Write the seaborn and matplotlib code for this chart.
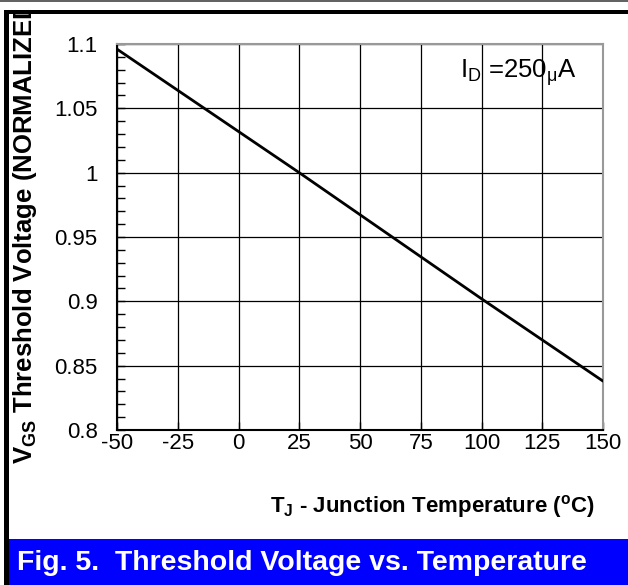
import matplotlib
matplotlib.use("Agg")
import matplotlib.pyplot as plt
import seaborn as sns
import pandas as pd
from matplotlib.patches import Rectangle
from matplotlib.lines import Line2D
from matplotlib.ticker import MultipleLocator

# Data
temps = [-50, 25, 100, 150]
vth_norm = [1.096, 1.0, 0.902, 0.838]
x_ticks = [-50, -25, 0, 25, 50, 75, 100, 125, 150]
y_ticks = [0.8, 0.85, 0.9, 0.95, 1.0, 1.05, 1.1]
y_tick_labels = ["0.8", "0.85", "0.9", "0.95", "1", "1.05", "1.1"]

sns.set_style("white")
plt.rcParams['font.family'] = ['Liberation Sans', 'DejaVu Sans']
plt.rcParams['mathtext.fontset'] = 'custom'
plt.rcParams['mathtext.rm'] = 'Liberation Sans'
plt.rcParams['mathtext.bf'] = 'Liberation Sans:bold'
plt.rcParams['mathtext.it'] = 'Liberation Sans:italic'

W, H = 628, 585
fig = plt.figure(figsize=(W / 100, H / 100), dpi=100)
fig.patch.set_facecolor("white")

def fx(px):
    return px / W

def fy(py):
    return 1 - py / H

ax = fig.add_axes([fx(117), fy(430), fx(603) - fx(117), fy(44) - fy(430)])

df = pd.DataFrame({"T": temps, "V": vth_norm})
sns.lineplot(data=df, x="T", y="V", ax=ax, color="black", linewidth=2.0, zorder=5)

ax.set_xlim(-50, 150)
ax.set_ylim(0.8, 1.1)
ax.set_xticks(x_ticks)
ax.set_xticklabels([str(t) for t in x_ticks])
ax.set_yticks(y_ticks)
ax.set_yticklabels(y_tick_labels)
ax.yaxis.set_minor_locator(MultipleLocator(0.01))
ax.grid(True, which="major", color="black", linewidth=0.9)
ax.tick_params(axis="both", which="major", direction="in", length=6, width=1,
               labelsize=16, colors="black")
ax.tick_params(axis="x", which="major", pad=2)
ax.tick_params(axis="y", which="major", pad=14)
ax.tick_params(axis="y", which="minor", direction="in", length=6, width=1,
               left=True, colors="black")
ax.tick_params(axis="x", which="major", bottom=True)
ax.tick_params(axis="y", which="major", left=True)
for s in ["left", "bottom"]:
    ax.spines[s].set_color("black")
    ax.spines[s].set_linewidth(1.5)
for s in ["top", "right"]:
    ax.spines[s].set_color("#999999")
    ax.spines[s].set_linewidth(1.5)
ax.set_xlabel("")
ax.set_ylabel("")

ax.text(0.945, 0.925, r"I$_\mathregular{D}$ =250$_\mathregular{\mu}$A", transform=ax.transAxes,
        ha="right", va="center", fontsize=18.5, color="black")

# Axis labels as figure text
fig.text(fx(432), fy(507), r"T$_\mathbf{J}$ - Junction Temperature ($^\mathbf{o}$C)",
         ha="center", va="center", fontsize=16, fontweight="bold", color="black")
fig.text(fx(25), fy(464), r"V$_\mathbf{GS}$ Threshold Voltage (NORMALIZED)",
         ha="center", va="bottom", rotation=90, fontsize=18.5, fontweight="bold",
         color="black", zorder=1)

# Frame: white cover above, thin top line, thick top border, left border
fig.patches.append(Rectangle((0, fy(10)), 1, 1 - fy(10), transform=fig.transFigure,
                             facecolor="white", edgecolor="none", zorder=10))
fig.lines.append(Line2D([0, 1], [fy(1), fy(1)], transform=fig.transFigure,
                        color="#444444", linewidth=1.2, zorder=11))
fig.patches.append(Rectangle((fx(4), fy(14)), 1 - fx(4), fy(10) - fy(14),
                             transform=fig.transFigure, facecolor="black",
                             edgecolor="none", zorder=11))
fig.patches.append(Rectangle((fx(4), 0), fx(9) - fx(4), fy(10), transform=fig.transFigure,
                             facecolor="black", edgecolor="none", zorder=11))
# Blue banner
fig.patches.append(Rectangle((fx(9), 0), 1 - fx(9), fy(539), transform=fig.transFigure,
                             facecolor="#0000FF", edgecolor="none", zorder=11))
fig.text(fx(302), fy(563), "Fig. 5.  Threshold Voltage vs. Temperature",
         ha="center", va="center", fontsize=20.5, fontweight="bold", color="white", zorder=12)

fig.savefig("out.png", dpi=100)
